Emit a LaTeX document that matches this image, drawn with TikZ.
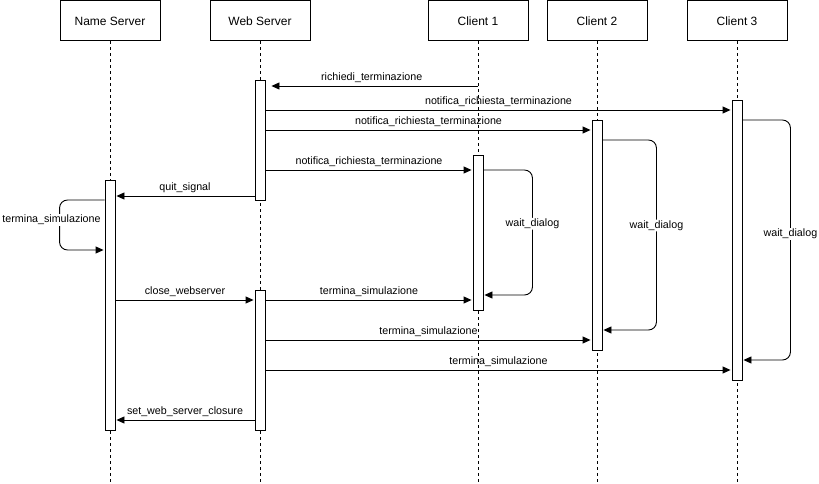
\documentclass[tikz,border=0pt]{standalone}
\usepackage{fontspec}
\setmainfont{Liberation Sans}
\usetikzlibrary{positioning, arrows.meta, calc}

\begin{document}
\begin{tikzpicture}[x=1pt, y=-1pt, line width=0.9pt,
            participant/.style={draw=black, rectangle, fill=white, minimum width=100pt, minimum height=40pt, anchor=north, font=\fontsize{12}{14}\selectfont},
            activation/.style={draw=black, rectangle, fill=white, minimum width=10pt, inner sep=0pt, anchor=north},
            lifeline/.style={dash pattern=on 3pt off 3pt},
            msg/.style={-{Triangle[length=8pt, width=7pt]}, shorten >=1pt},
            msglabel/.style={font=\fontsize{10.7}{13}\selectfont, inner sep=1pt, above=2pt},
            selfloop/.style={msg, rounded corners=8pt},
            looplabel/.style={font=\fontsize{10.7}{13}\selectfont, fill=white, inner sep=1pt}
        ]
        \useasboundingbox (0,0) rectangle (819,484);

        % Partecipanti
        \node[participant] (ns) at (110,0.5) {Name Server};
        \node[participant] (ws) at (260,0.5) {Web Server};
        \node[participant] (c1) at (478,0.5) {Client 1};
        \node[participant] (c2) at (597,0.5) {Client 2};
        \node[participant] (c3) at (737,0.5) {Client 3};

        % Linee di vita
        \foreach \p in {ns, ws, c1, c2, c3}
            \draw[lifeline] (\p.south) -- (\p.south |- 0,484);

        % Attivazioni
        \node[activation, minimum height=120pt] (ws1) at (260,80) {};
        \node[activation, minimum height=250pt] (nsa) at (110,180) {};
        \node[activation, minimum height=140pt] (ws2) at (260,290) {};
        \node[activation, minimum height=155pt] (c1a) at (478,155) {};
        \node[activation, minimum height=230pt] (c2a) at (597,120) {};
        \node[activation, minimum height=280pt] (c3a) at (737,100) {};

        % Messaggi
        \draw[msg, shorten >=6pt] (c1.south |- 0,86) -- (ws1.east |- 0,86) node[msglabel, midway] {richiedi\_terminazione};
        \draw[msg] (ws1.east |- 0,110) -- (c3a.west |- 0,110) node[msglabel, midway] {notifica\_richiesta\_terminazione};
        \draw[msg] (ws1.east |- 0,130) -- (c2a.west |- 0,130) node[msglabel, midway] {notifica\_richiesta\_terminazione};
        \draw[msg] (ws1.east |- 0,170) -- (c1a.west |- 0,170) node[msglabel, midway] {notifica\_richiesta\_terminazione};
        \draw[msg] (ws1.west |- 0,196) -- (nsa.east |- 0,196) node[msglabel, midway] {quit\_signal};
        \draw[selfloop] (nsa.west |- 0,200) -- ++(-45,0) -- ++(0,50) node[looplabel, pos=0.4, xshift=-8pt] {termina\_simulazione} -- (nsa.west |- 0,250);
        \draw[selfloop] (c1a.east |- 0,170) -- ++(49,0) -- ++(0,125) node[looplabel, pos=0.43] {wait\_dialog} -- (c1a.east |- 0,295);
        \draw[selfloop] (c2a.east |- 0,140) -- ++(54,0) -- ++(0,190) node[looplabel, pos=0.45] {wait\_dialog} -- (c2a.east |- 0,330);
        \draw[selfloop] (c3a.east |- 0,120) -- ++(48,0) -- ++(0,240) node[looplabel, pos=0.475] {wait\_dialog} -- (c3a.east |- 0,360);
        \draw[msg] (nsa.east |- 0,300) -- (ws2.west |- 0,300) node[msglabel, midway] {close\_webserver};
        \draw[msg] (ws2.east |- 0,300) -- (c1a.west |- 0,300) node[msglabel, midway] {termina\_simulazione};
        \draw[msg] (ws2.east |- 0,340) -- (c2a.west |- 0,340) node[msglabel, midway] {termina\_simulazione};
        \draw[msg] (ws2.east |- 0,370) -- (c3a.west |- 0,370) node[msglabel, midway] {termina\_simulazione};
        \draw[msg] (ws2.west |- 0,420) -- (nsa.east |- 0,420) node[msglabel, midway] {set\_web\_server\_closure};

    \end{tikzpicture}
\end{document}
